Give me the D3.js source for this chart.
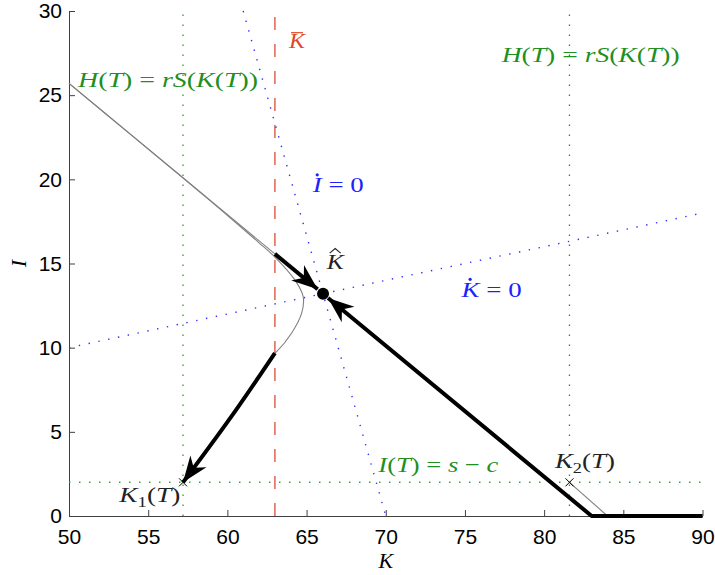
<!DOCTYPE html>
<html>
<head>
<meta charset="utf-8">
<script src="https://cdn.jsdelivr.net/npm/d3@7"></script>
<style>
  body { margin: 0; background: #fff; }
  .axis path, .axis line { stroke: #404040; }
  .axis text { font-family: "Liberation Sans", Arial, sans-serif; font-size: 21px; fill: #000; }
</style>
</head>
<body>
<svg id="chart" width="715" height="575"></svg>
<script>
// tick values
var xTicks = [50, 55, 60, 65, 70, 75, 80, 85, 90];
var yTicks = [0, 5, 10, 15, 20, 25, 30];

// key levels
var kBar = 63;
var k1 = 57.2, k2 = 81.6;
var iTerminal = 2;
var kHat = [66.04, 13.2];

// nullclines (I-dot = 0 and K-dot = 0)
var iDotK = [61, 70], iDotI = [30, 0];
var kDotK = [50, 90], kDotI = [10, 18];

// thin grey trajectories
var greyK = [50, 54, 57, 59, 61, 62, 63, 64.27, 64.79, 64.69, 64.06, 63.11, 63];
var greyI = [25.7, 22.58, 20.24, 18.66, 17.05, 16.23, 15.38, 14.01, 13.02, 12.05, 10.87, 9.76, 9.68];
var stableK = [50, 63], stableI = [25.7, 15.57];
var tailK = [k2, 84], tailI = [iTerminal, 0];

// thick paths
var upperK = [63, kHat[0]], upperI = [15.57, kHat[1]];
var rightK = [90, 83, kHat[0]], rightI = [0, 0, kHat[1]];
var lowerK = [63, 60.2, k1], lowerI = [9.68, 5.84, iTerminal];

var svg = d3.select("#chart");

var x = d3.scaleLinear().domain([50, 90]).range([69, 702.5]);
var y = d3.scaleLinear().domain([0, 30]).range([516, 11]);

function zip(ks, is) { return ks.map(function(k, j) { return [k, is[j]]; }); }

var straight = d3.line().x(function(d) { return x(d[0]); }).y(function(d) { return y(d[1]); });
var smooth = d3.line().x(function(d) { return x(d[0]); }).y(function(d) { return y(d[1]); }).curve(d3.curveCatmullRom);

// axes
svg.append("g")
  .attr("class", "axis")
  .attr("transform", "translate(0," + y(0) + ")")
  .call(d3.axisBottom(x).tickValues(xTicks).tickSizeInner(-6).tickSizeOuter(0).tickPadding(13));

svg.append("g")
  .attr("class", "axis")
  .attr("transform", "translate(" + x(50) + ",0)")
  .call(d3.axisLeft(y).tickValues(yTicks).tickSizeInner(-6).tickSizeOuter(0).tickPadding(7));

// reference lines
var green = "#1f8f1f", blue = "#2020ff", dark = "#222";

function vline(k, i0, i1, color, dash, w) {
  svg.append("line")
    .attr("x1", x(k)).attr("x2", x(k))
    .attr("y1", y(i0)).attr("y2", y(i1))
    .attr("stroke", color).attr("stroke-width", w).attr("stroke-dasharray", dash);
}
vline(k1, 0, 30, "#3cb43c", "1.5,8.5", 1.5);
vline(k2, 0, 30, "#2f8a2f", "1.4,8.6", 1.3);
vline(kBar, 0, 30, "#e0705c", "13,14", 1.6);

svg.append("line")
  .attr("x1", x(50)).attr("x2", x(90))
  .attr("y1", y(iTerminal)).attr("y2", y(iTerminal))
  .attr("stroke", "#35a835").attr("stroke-width", 1.5).attr("stroke-dasharray", "1.5,8.5");

[zip(iDotK, iDotI), zip(kDotK, kDotI)].forEach(function(d) {
  svg.append("path").datum(d)
    .attr("d", straight).attr("fill", "none")
    .attr("stroke", "#3030ff").attr("stroke-width", 1.4).attr("stroke-dasharray", "1.4,8.6");
});

// grey trajectories
[zip(stableK, stableI), zip(greyK, greyI), zip(tailK, tailI)].forEach(function(d) {
  svg.append("path").datum(d)
    .attr("d", smooth).attr("fill", "none")
    .attr("stroke", "#808080").attr("stroke-width", 1.1);
});

// thick paths with arrow heads
function arrowPath(d, back, curve) {
  var pts = d.map(function(p) { return [x(p[0]), y(p[1])]; });
  var n = pts.length;
  var a = pts[n - 2], b = pts[n - 1];
  var dx = b[0] - a[0], dy = b[1] - a[1];
  var len = Math.sqrt(dx * dx + dy * dy);
  var tip = [b[0] - dx / len * back, b[1] - dy / len * back];
  pts[n - 1] = tip;
  svg.append("path").datum(pts)
    .attr("d", d3.line().curve(curve))
    .attr("fill", "none").attr("stroke", "#000").attr("stroke-width", 4)
    .attr("stroke-linejoin", "round");
  var ang = Math.atan2(dy, dx) * 180 / Math.PI;
  svg.append("path")
    .attr("d", "M0,0L-26,-10L-18,0L-26,10Z")
    .attr("transform", "translate(" + tip[0] + "," + tip[1] + ") rotate(" + ang + ")")
    .attr("fill", "#000");
}
arrowPath(zip(upperK, upperI), 7, d3.curveLinear);
arrowPath(zip(rightK, rightI), 6.5, d3.curveLinear);
arrowPath(zip(lowerK, lowerI), 0, d3.curveCatmullRom);

// equilibrium point
svg.append("circle")
  .attr("cx", x(kHat[0])).attr("cy", y(kHat[1])).attr("r", 6).attr("fill", "#000");

// terminal markers
[k1, k2].forEach(function(k) {
  var cx = x(k), cy = y(iTerminal), s = 4;
  svg.append("path")
    .attr("d", "M" + (cx - s) + "," + (cy - s) + "L" + (cx + s) + "," + (cy + s) +
               "M" + (cx - s) + "," + (cy + s) + "L" + (cx + s) + "," + (cy - s))
    .attr("stroke", "#000").attr("stroke-width", 1);
});

// math labels (glyphs stretched to the widths seen in the figure)
function mathLabel(k, i, parts, color, width) {
  var t = svg.append("text")
    .attr("x", x(k)).attr("y", y(i))
    .attr("fill", color)
    .style("font-family", "'Liberation Serif', 'Times New Roman', serif")
    .style("font-size", "22px");
  parts.forEach(function(p) {
    var s = t.append("tspan").text(p[0]).style("font-style", p[1] ? "italic" : "normal");
    if (p[2]) s.attr("dy", p[2]);
    if (p[3]) s.style("font-size", p[3]);
  });
  if (width) t.attr("textLength", width).attr("lengthAdjust", "spacingAndGlyphs");
  return t;
}

var hParts = [["H", 1], ["(", 0], ["T", 1], [")", 0], [" = ", 0], ["rS", 1], ["(", 0], ["K", 1], ["(", 0], ["T", 1], ["))", 0]];

mathLabel(63.89, 27.79, [["K", 1]], "#e0482a", 16);
mathLabel(50.57, 25.47, hParts, green, 180);
mathLabel(77.32, 26.98, hParts, green, 178);
mathLabel(65.39, 19.26, [["I", 1], [" = 0", 0]], blue, 51);
mathLabel(66.27, 14.67, [["K", 1]], dark, 17);
mathLabel(74.79, 12.99, [["K", 1], [" = 0", 0]], blue, 60);
mathLabel(69.53, 2.63, [["I", 1], ["(", 0], ["T", 1], [")", 0], [" = ", 0], ["s", 1], [" \u2212 ", 0], ["c", 1]], green, 120);
mathLabel(80.68, 2.83, [["K", 1], ["2", 0, 5, "15px"], ["(", 0, -5], ["T", 1], [")", 0]], dark, 60);
mathLabel(53.18, 0.85, [["K", 1], ["1", 0, 5, "15px"], ["(", 0, -5], ["T", 1], [")", 0]], dark, 61);

// accents: bar, hat, dots
svg.append("line")
  .attr("x1", x(63.89) + 2).attr("x2", x(63.89) + 14)
  .attr("y1", y(27.79) - 15.5).attr("y2", y(27.79) - 15.5)
  .attr("stroke", "#e0482a").attr("stroke-width", 1.2);
svg.append("path")
  .attr("d", "M" + (x(66.27) + 3) + "," + (y(14.67) - 16) + "L" + (x(66.27) + 8.5) + "," + (y(14.67) - 20.5) +
             "L" + (x(66.27) + 14) + "," + (y(14.67) - 16))
  .attr("fill", "none").attr("stroke", dark).attr("stroke-width", 1.1);
svg.append("circle").attr("cx", x(65.39) + 4.5).attr("cy", y(19.26) - 17).attr("r", 1.6).attr("fill", blue);
svg.append("circle").attr("cx", x(74.79) + 8.5).attr("cy", y(12.99) - 18).attr("r", 1.6).attr("fill", blue);

// axis labels
svg.append("text")
  .attr("x", x(70)).attr("y", 568)
  .attr("text-anchor", "middle")
  .style("font-family", "'Liberation Serif', serif").style("font-style", "italic").style("font-size", "22px")
  .text("K");
svg.append("text")
  .attr("transform", "translate(26," + y(15) + ") rotate(-90)")
  .attr("text-anchor", "middle")
  .style("font-family", "'Liberation Serif', serif").style("font-style", "italic").style("font-size", "22px")
  .text("I");
</script>
</body>
</html>
